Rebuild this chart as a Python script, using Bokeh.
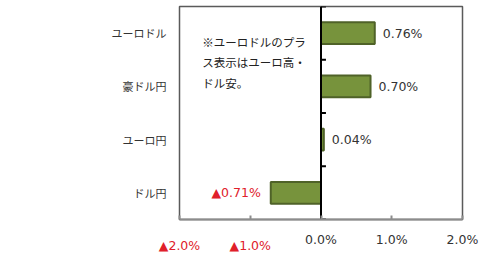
from bokeh.plotting import figure
from bokeh.models import Label, FixedTicker, Range1d, FactorRange, ColumnDataSource, LinearAxis
from bokeh.embed import file_html
from bokeh.resources import INLINE

categories = ["ユーロドル", "豪ドル円", "ユーロ円", "ドル円"]
values = [0.76, 0.70, 0.04, -0.71]
tick_values = [-2, -1, 0, 1, 2]
tick_labels = ["▲2.0%", "▲1.0%", "0.0%", "1.0%", "2.0%"]
note_lines = ["※ユーロドルのプラ", "ス表示はユーロ高・", "ドル安。"]

def fmt(v):
    return ("▲%.2f%%" % abs(v)) if v < 0 else ("%.2f%%" % v)

NUM_FONT = "DejaVu Sans"
JP_FONT = "Noto Sans CJK JP"
RED = "#e0202a"
DARK = "#333333"
NUM_SIZE = "12.5px"

p = figure(width=500, height=258, output_backend="svg", toolbar_location=None,
           y_range=FactorRange(*list(reversed(categories))),
           x_range=Range1d(-2, 2),
           min_border_left=179, min_border_right=38, min_border_top=6, min_border_bottom=39)
p.background_fill_color = "white"
p.border_fill_color = "white"
p.outline_line_color = "#5a5a5a"
p.outline_line_width = 1.5
p.grid.visible = False

src = ColumnDataSource(dict(cat=categories, val=values))
p.hbar(y="cat", left=0, right="val", height=0.41, source=src,
       fill_color="#77933C", line_color="#4F6228", line_width=2)

# zero line with boundary ticks
nb = len(categories) + 1
p.segment(x0=0, x1=0, y0=0, y1=len(categories), line_color="black", line_width=2)
p.segment(x0=[0] * nb, x1=[0.07] * nb, y0=list(range(nb)), y1=list(range(nb)),
          line_color="black", line_width=2)

# value labels
for i, (c, v) in enumerate(zip(categories, values)):
    yy = len(categories) - 1 - i + 0.5
    p.add_layout(Label(x=v, y=yy, x_offset=(8 if v >= 0 else -10), text=fmt(v),
                       text_font=NUM_FONT, text_font_size=NUM_SIZE,
                       text_color=(DARK if v >= 0 else RED), text_baseline="middle",
                       text_align=("left" if v >= 0 else "right")))

# note text
for i, t in enumerate(note_lines):
    p.add_layout(Label(x=-1.68, y=3.33 - i * 0.38, text=t,
                       text_font=JP_FONT, text_font_size="11.5px",
                       text_color="#222222", text_baseline="middle",
                       text_align="left"))

# x axis (black positive labels)
xa = p.xaxis[0]
xa.ticker = FixedTicker(ticks=tick_values)
xa.major_label_overrides = {t: (l if t >= 0 else "") for t, l in zip(tick_values, tick_labels)}
xa.axis_line_color = "#8c8c8c"
xa.axis_line_width = 2
xa.major_tick_in = 4
xa.major_tick_out = 0
xa.major_tick_line_color = "#8c8c8c"
xa.major_tick_line_width = 2
xa.minor_tick_line_color = None
xa.major_label_text_font = NUM_FONT
xa.major_label_text_font_size = NUM_SIZE
xa.major_label_text_color = DARK
xa.major_label_standoff = 12

# second axis for red negative labels
xb = LinearAxis(ticker=FixedTicker(ticks=tick_values))
xb.major_label_overrides = {t: (l if t < 0 else "") for t, l in zip(tick_values, tick_labels)}
xb.axis_line_color = None
xb.major_tick_line_color = None
xb.minor_tick_line_color = None
xb.major_label_text_font = NUM_FONT
xb.major_label_text_font_size = NUM_SIZE
xb.major_label_text_color = RED
xb.major_label_standoff = -18
p.add_layout(xb, "below")

ya = p.yaxis[0]
ya.axis_line_color = None
ya.major_tick_line_color = None
ya.minor_tick_line_color = None
ya.major_label_text_font = JP_FONT
ya.major_label_text_font_size = "11px"
ya.major_label_text_color = DARK
ya.major_label_standoff = 7

open("out.html", "w").write(file_html(p, INLINE))
